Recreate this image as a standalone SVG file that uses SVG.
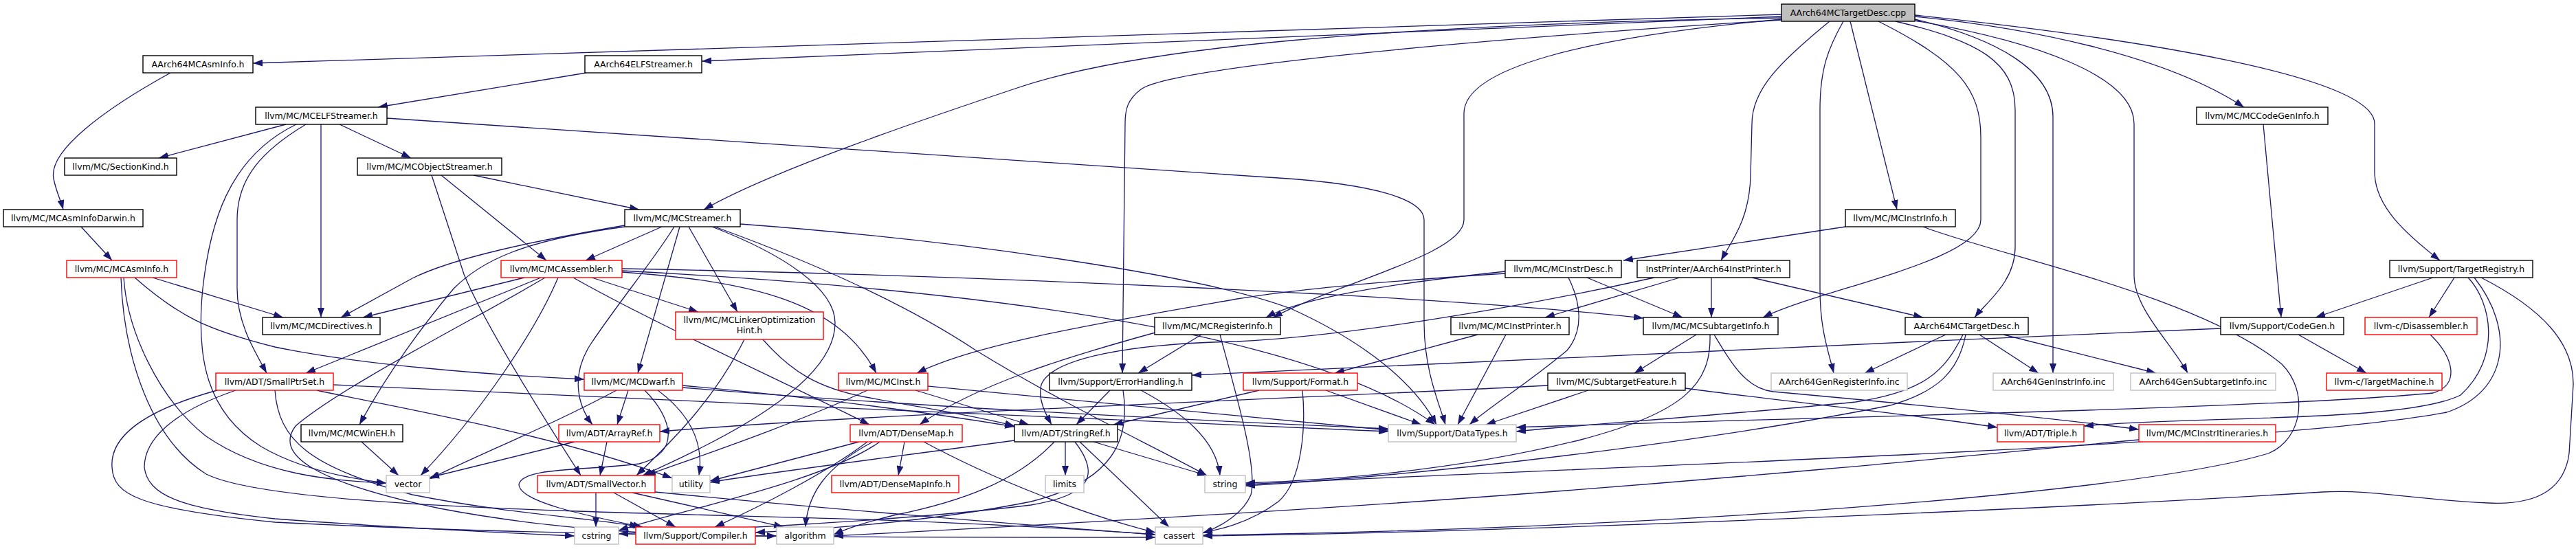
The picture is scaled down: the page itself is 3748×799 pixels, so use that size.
<svg xmlns="http://www.w3.org/2000/svg" width="3748" height="799" viewBox="0 0 3748 799">
<style>
rect{fill:#fff;stroke:#000;stroke-width:1.4}
.r rect{stroke:#f00}
.g rect{stroke:#bfbfbf}
.root rect{fill:#bfbfbf}
text{font-family:'DejaVu Sans','Liberation Sans',sans-serif;font-size:12.5px;text-anchor:middle;fill:#000}
#edges path{fill:none;stroke:#191970;stroke-width:1.3;marker-end:url(#a)}
</style>
<defs>
<marker id="a" markerUnits="userSpaceOnUse" markerWidth="14" markerHeight="10" refX="14" refY="5" orient="auto" viewBox="0 0 14 10"><path d="M0,0 L14,5 L0,10 z" fill="#191970"/></marker>
</defs>
<rect x="0" y="0" width="3748" height="799" style="fill:#fff;stroke:none"/>
<g id="edges">
<path d="M2592,21 L368,92"/>
<path d="M2592,24 L1021,89"/>
<path d="M2592,26 C2000,36 1650,70 1480,128 C1330,178 1120,250 1024,305"/>
<path d="M2662,31 C2590,90 2549,130 2549,180 L2547,257 C2545,320 2520,350 2504,379"/>
<path d="M2692,31 L2760,305"/>
<path d="M2592,28 C2300,55 2130,100 2130,165 L2130,320 C2130,370 1950,410 1852,462"/>
<path d="M2733,31 C2850,90 2882,130 2882,200 L2882,320 C2882,380 2650,420 2565,462"/>
<path d="M2592,29 C2100,60 1700,100 1660,130 C1640,145 1637,160 1637,180 L1633,543"/>
<path d="M2758,31 C2880,60 2932,90 2932,160 L2932,360 C2932,410 2890,440 2873,462"/>
<path d="M2682,31 C2660,70 2648,100 2648,160 L2648,420 C2648,480 2660,510 2668,543"/>
<path d="M2786,28 C2900,55 2987,100 2987,170 L2987,543"/>
<path d="M2786,30 C2960,60 3105,110 3105,180 L3105,400 C3105,450 3160,500 3183,543"/>
<path d="M2786,24 C2950,40 3150,80 3265,156"/>
<path d="M2786,22 C3100,55 3455,110 3455,180 L3455,250 C3455,300 3500,340 3550,379"/>
<path d="M248,106 C150,160 70,220 78,260 C82,280 88,290 92,305"/>
<path d="M853,106 L550,156"/>
<path d="M416,181 L231,230"/>
<path d="M494,181 L598,230"/>
<path d="M467,181 L467,462"/>
<path d="M445,181 C380,220 345,260 345,320 L345,420 C345,470 370,510 388,543"/>
<path d="M431,181 C330,230 305,330 295,420 C285,520 300,600 380,650 C440,685 520,698 562,703"/>
<path d="M563,172 L1860,259 C2000,268 2072,290 2072,320 L2072,470 C2072,540 2095,590 2103,618"/>
<path d="M3293,181 L3319,462"/>
<path d="M689,255 L930,305"/>
<path d="M642,255 L795,379"/>
<path d="M628,255 L675,399 C700,460 760,560 845,692"/>
<path d="M118,330 L163,379"/>
<path d="M909,328 C780,350 660,375 600,405 L496,462"/>
<path d="M909,330 C760,350 700,380 660,420 C610,480 560,550 523,618"/>
<path d="M963,330 L852,379"/>
<path d="M981,330 C950,380 900,440 860,500 C830,545 840,590 862,618"/>
<path d="M989,330 L928,543"/>
<path d="M1002,330 L1073,454"/>
<path d="M1036,330 C1140,370 1215,420 1215,470 C1215,560 1050,640 935,692"/>
<path d="M1040,330 C1150,370 1300,430 1420,510 C1550,590 1680,650 1756,692"/>
<path d="M1077,326 C1400,350 1750,400 1880,450 C1990,500 2060,560 2090,618"/>
<path d="M2685,330 L2362,379"/>
<path d="M2798,330 C2900,370 3200,430 3320,530 C3360,570 3350,640 3300,660 C3100,720 2400,770 1750,779"/>
<path d="M222,404 L412,462"/>
<path d="M196,404 C260,460 300,480 400,505 C520,530 700,545 850,552"/>
<path d="M180,404 C185,480 230,580 300,635 C380,690 480,700 562,703"/>
<path d="M176,404 C180,520 220,640 300,690 C400,740 900,745 1260,756 C1450,763 1600,772 1681,778"/>
<path d="M763,404 L528,462"/>
<path d="M787,404 L445,543"/>
<path d="M812,404 C780,480 700,600 612,692"/>
<path d="M793,404 C700,460 500,560 430,620 C400,660 450,700 640,740 C850,780 1050,780 1130,780"/>
<path d="M861,404 L1016,454"/>
<path d="M834,404 C950,470 1150,560 1265,618"/>
<path d="M905,396 C1100,410 1220,440 1275,543"/>
<path d="M905,391 C1400,400 2100,430 2391,463"/>
<path d="M905,394 C1400,420 1900,480 2088,618"/>
<path d="M2190,395 C2050,410 1900,430 1842,462"/>
<path d="M2190,398 C2000,410 1880,422 1800,435 C1600,470 1420,500 1334,543"/>
<path d="M2309,404 L2448,462"/>
<path d="M2282,404 C2300,440 2305,480 2280,510 C2220,560 2170,590 2138,618"/>
<path d="M2444,404 L2248,462"/>
<path d="M2490,404 L2490,462"/>
<path d="M2549,404 L2798,462"/>
<path d="M2407,404 C2200,450 1950,490 1800,497 C1650,500 1530,520 1515,560 C1510,580 1520,600 1530,618"/>
<path d="M3540,404 L3369,462"/>
<path d="M3571,404 L3534,462"/>
<path d="M3591,404 C3625,440 3640,520 3580,575 C3500,615 3200,605 3032,620"/>
<path d="M3600,404 C3660,480 3650,570 3560,600 C3300,650 2300,680 1812,705"/>
<path d="M3610,404 C3700,450 3745,500 3744,560 L3738,660 C3730,720 3680,735 3620,732 C3520,728 3450,712 3380,716 C3000,740 2200,775 1750,780"/>
<path d="M1748,487 L1656,543"/>
<path d="M1681,484 C1550,520 1420,560 1338,618"/>
<path d="M1775,487 C1800,580 1830,680 1820,720 C1810,745 1780,765 1750,776"/>
<path d="M2150,487 L1942,543"/>
<path d="M2191,487 L2121,618"/>
<path d="M2468,487 L2378,543"/>
<path d="M2494,487 C2520,530 2540,565 2580,570 C2800,590 3000,610 3112,625"/>
<path d="M2488,487 C2490,560 2450,600 2300,640 C2100,690 1900,700 1812,703"/>
<path d="M2831,487 L2713,543"/>
<path d="M2880,487 L2966,543"/>
<path d="M2915,487 L3137,543"/>
<path d="M2856,487 C2830,540 2800,570 2700,585 C2500,605 2300,618 2206,628"/>
<path d="M2860,487 C2850,540 2820,570 2750,590 C2500,640 2100,690 1812,707"/>
<path d="M3344,487 L3443,543"/>
<path d="M3231,478 C2700,500 2100,530 1734,546"/>
<path d="M3536,487 C3570,520 3580,560 3540,572 C3300,595 2600,608 2206,622"/>
<path d="M485,560 C900,580 1600,610 2020,628"/>
<path d="M461,568 C560,590 800,630 978,696"/>
<path d="M400,568 C405,640 450,680 600,720 C750,750 880,755 930,767"/>
<path d="M343,568 C250,600 210,640 210,680 C215,720 260,740 400,755 C600,770 750,776 836,780"/>
<path d="M316,568 C200,600 160,640 163,680 C165,720 200,740 400,760 C900,785 1400,782 1681,782"/>
<path d="M914,568 L898,618"/>
<path d="M897,568 C800,620 700,660 625,697"/>
<path d="M938,568 C980,610 990,660 930,675 C850,685 760,680 755,705 C755,730 850,750 935,767"/>
<path d="M957,568 C1000,600 1025,640 1017,692"/>
<path d="M993,561 C1200,580 1350,600 1476,621"/>
<path d="M993,564 C1300,590 1700,610 2020,624"/>
<path d="M1262,568 C1150,620 1000,670 940,692"/>
<path d="M1332,568 L1497,618"/>
<path d="M1350,562 C1600,585 1850,610 2020,626"/>
<path d="M1615,568 L1566,618"/>
<path d="M1634,568 C1645,640 1620,700 1500,730 C1350,760 1200,770 1099,775"/>
<path d="M1660,568 C1720,600 1770,640 1775,692"/>
<path d="M1832,568 L1620,618"/>
<path d="M1929,568 L2068,618"/>
<path d="M1895,568 C1900,620 1895,700 1860,730 C1820,760 1780,770 1750,775"/>
<path d="M2452,565 C2600,585 2800,605 2906,622"/>
<path d="M2311,568 L2162,618"/>
<path d="M2252,561 C1900,580 1300,600 960,628"/>
<path d="M526,643 L580,692"/>
<path d="M883,643 L873,692"/>
<path d="M836,643 L625,695"/>
<path d="M1316,643 L1307,692"/>
<path d="M1344,643 C1450,700 1580,750 1681,775"/>
<path d="M1250,643 L1033,700"/>
<path d="M1262,643 C1200,690 1100,740 1040,767"/>
<path d="M1270,643 C1200,680 1175,720 1172,767"/>
<path d="M1280,643 C1200,700 1000,740 900,772"/>
<path d="M1550,643 L1550,692"/>
<path d="M1591,643 L1756,692"/>
<path d="M1571,643 L1701,767"/>
<path d="M1476,641 C1300,665 1100,690 1033,702"/>
<path d="M1534,643 C1480,700 1400,730 1300,750 C1260,760 1230,770 1213,778"/>
<path d="M1564,643 C1600,690 1590,720 1500,735 C1300,760 1000,772 900,777"/>
<path d="M3112,640 C2900,660 2600,690 2200,720 C1800,750 1400,770 1213,780"/>
<path d="M867,717 L867,767"/>
<path d="M893,717 L983,767"/>
<path d="M920,717 L1140,767"/>
<path d="M953,716 C1200,740 1500,765 1681,778"/>
<path d="M1083,494 C1040,580 980,640 926,692"/>
<path d="M1110,494 C1150,540 1190,565 1260,578 C1350,595 1420,605 1476,620"/>
</g>
<g id="n0" class="root"><rect x="2592" y="6" width="194" height="25"/><text x="2689" y="23">AArch64MCTargetDesc.cpp</text></g>
<g id="n1"><rect x="208" y="81" width="160" height="25"/><text x="288" y="98">AArch64MCAsmInfo.h</text></g>
<g id="n2"><rect x="851" y="81" width="170" height="25"/><text x="936" y="98">AArch64ELFStreamer.h</text></g>
<g id="n3"><rect x="372" y="156" width="191" height="25"/><text x="467.5" y="173">llvm/MC/MCELFStreamer.h</text></g>
<g id="n4"><rect x="3196" y="156" width="191" height="25"/><text x="3291.5" y="173">llvm/MC/MCCodeGenInfo.h</text></g>
<g id="n5"><rect x="94" y="230" width="163" height="25"/><text x="175.5" y="247">llvm/MC/SectionKind.h</text></g>
<g id="n6"><rect x="520" y="230" width="210" height="25"/><text x="625" y="247">llvm/MC/MCObjectStreamer.h</text></g>
<g id="n7"><rect x="5" y="305" width="203" height="25"/><text x="106.5" y="322">llvm/MC/MCAsmInfoDarwin.h</text></g>
<g id="n8"><rect x="909" y="305" width="168" height="25"/><text x="993" y="322">llvm/MC/MCStreamer.h</text></g>
<g id="n9"><rect x="2685" y="305" width="160" height="25"/><text x="2765" y="322">llvm/MC/MCInstrInfo.h</text></g>
<g id="n10" class="r"><rect x="97" y="379" width="160" height="25"/><text x="177" y="396">llvm/MC/MCAsmInfo.h</text></g>
<g id="n11" class="r"><rect x="729" y="379" width="176" height="25"/><text x="817" y="396">llvm/MC/MCAssembler.h</text></g>
<g id="n12"><rect x="2190" y="379" width="169" height="25"/><text x="2274.5" y="396">llvm/MC/MCInstrDesc.h</text></g>
<g id="n13"><rect x="2382" y="379" width="222" height="25"/><text x="2493" y="396">InstPrinter/AArch64InstPrinter.h</text></g>
<g id="n14"><rect x="3477" y="379" width="208" height="25"/><text x="3581" y="396">llvm/Support/TargetRegistry.h</text></g>
<g id="n15"><rect x="382" y="462" width="171" height="25"/><text x="467.5" y="479">llvm/MC/MCDirectives.h</text></g>
<g id="n16" class="r"><rect x="983" y="454" width="215" height="40"/><text x="1090.5" y="470">llvm/MC/MCLinkerOptimization</text><text x="1090.5" y="485">Hint.h</text></g>
<g id="n17"><rect x="1680" y="462" width="183" height="25"/><text x="1771.5" y="479">llvm/MC/MCRegisterInfo.h</text></g>
<g id="n18"><rect x="2111" y="462" width="172" height="25"/><text x="2197" y="479">llvm/MC/MCInstPrinter.h</text></g>
<g id="n19"><rect x="2391" y="462" width="196" height="25"/><text x="2489" y="479">llvm/MC/MCSubtargetInfo.h</text></g>
<g id="n20"><rect x="2772" y="462" width="179" height="25"/><text x="2861.5" y="479">AArch64MCTargetDesc.h</text></g>
<g id="n21"><rect x="3231" y="462" width="179" height="25"/><text x="3320.5" y="479">llvm/Support/CodeGen.h</text></g>
<g id="n22" class="r"><rect x="3441" y="462" width="163" height="25"/><text x="3522.5" y="479">llvm-c/Disassembler.h</text></g>
<g id="n23" class="r"><rect x="314" y="543" width="171" height="25"/><text x="399.5" y="560">llvm/ADT/SmallPtrSet.h</text></g>
<g id="n24" class="r"><rect x="850" y="543" width="143" height="25"/><text x="921.5" y="560">llvm/MC/MCDwarf.h</text></g>
<g id="n25" class="r"><rect x="1220" y="543" width="130" height="25"/><text x="1285" y="560">llvm/MC/MCInst.h</text></g>
<g id="n26"><rect x="1527" y="543" width="207" height="25"/><text x="1630.5" y="560">llvm/Support/ErrorHandling.h</text></g>
<g id="n27" class="r"><rect x="1809" y="543" width="166" height="25"/><text x="1892" y="560">llvm/Support/Format.h</text></g>
<g id="n28"><rect x="2252" y="543" width="200" height="25"/><text x="2352" y="560">llvm/MC/SubtargetFeature.h</text></g>
<g id="n29" class="g"><rect x="2577" y="543" width="198" height="25"/><text x="2676" y="560">AArch64GenRegisterInfo.inc</text></g>
<g id="n30" class="g"><rect x="2900" y="543" width="175" height="25"/><text x="2987.5" y="560">AArch64GenInstrInfo.inc</text></g>
<g id="n31" class="g"><rect x="3100" y="543" width="211" height="25"/><text x="3205.5" y="560">AArch64GenSubtargetInfo.inc</text></g>
<g id="n32" class="r"><rect x="3385" y="543" width="168" height="25"/><text x="3469" y="560">llvm-c/TargetMachine.h</text></g>
<g id="n33"><rect x="438" y="618" width="148" height="25"/><text x="512" y="635">llvm/MC/MCWinEH.h</text></g>
<g id="n34" class="r"><rect x="813" y="618" width="147" height="25"/><text x="886.5" y="635">llvm/ADT/ArrayRef.h</text></g>
<g id="n35" class="r"><rect x="1237" y="618" width="163" height="25"/><text x="1318.5" y="635">llvm/ADT/DenseMap.h</text></g>
<g id="n36"><rect x="1476" y="618" width="150" height="25"/><text x="1551" y="635">llvm/ADT/StringRef.h</text></g>
<g id="n37" class="g"><rect x="2020" y="618" width="186" height="25"/><text x="2113" y="635">llvm/Support/DataTypes.h</text></g>
<g id="n38" class="r"><rect x="2906" y="618" width="126" height="25"/><text x="2969" y="635">llvm/ADT/Triple.h</text></g>
<g id="n39" class="r"><rect x="3112" y="618" width="199" height="25"/><text x="3211.5" y="635">llvm/MC/MCInstrItineraries.h</text></g>
<g id="n40" class="g"><rect x="562" y="692" width="63" height="25"/><text x="593.5" y="709">vector</text></g>
<g id="n41" class="r"><rect x="782" y="692" width="171" height="25"/><text x="867.5" y="709">llvm/ADT/SmallVector.h</text></g>
<g id="n42" class="g"><rect x="978" y="692" width="55" height="25"/><text x="1005.5" y="709">utility</text></g>
<g id="n43" class="r"><rect x="1210" y="692" width="185" height="25"/><text x="1302.5" y="709">llvm/ADT/DenseMapInfo.h</text></g>
<g id="n44" class="g"><rect x="1521" y="692" width="56" height="25"/><text x="1549" y="709">limits</text></g>
<g id="n45" class="g"><rect x="1753" y="692" width="59" height="25"/><text x="1782.5" y="709">string</text></g>
<g id="n46" class="g"><rect x="836" y="767" width="64" height="25"/><text x="868" y="784">cstring</text></g>
<g id="n47" class="r"><rect x="925" y="767" width="174" height="25"/><text x="1012" y="784">llvm/Support/Compiler.h</text></g>
<g id="n48" class="g"><rect x="1130" y="767" width="83" height="25"/><text x="1171.5" y="784">algorithm</text></g>
<g id="n49" class="g"><rect x="1681" y="767" width="69" height="25"/><text x="1715.5" y="784">cassert</text></g>
</svg>
